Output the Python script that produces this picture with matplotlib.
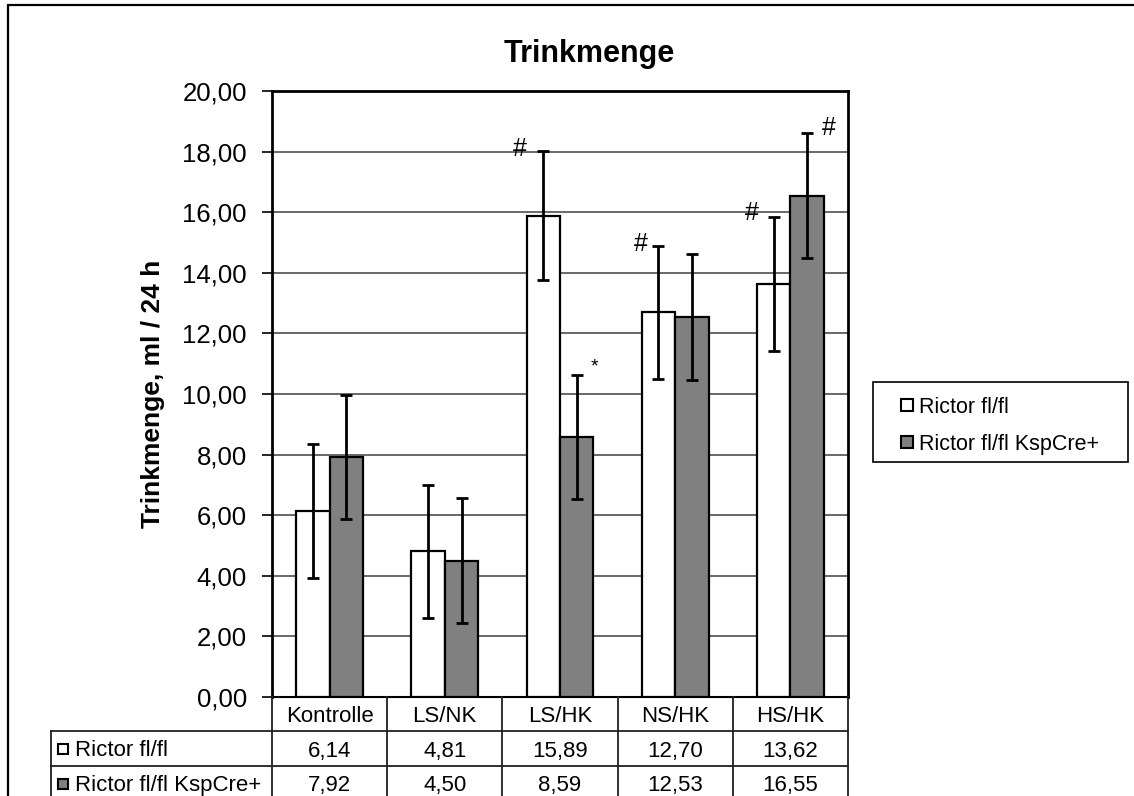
import matplotlib.pyplot as plt
import numpy as np
from matplotlib.lines import Line2D
from matplotlib.patches import Rectangle

plt.rcParams['font.family'] = ['Liberation Sans', 'DejaVu Sans']

# data
categories = ["Kontrolle", "LS/NK", "LS/HK", "NS/HK", "HS/HK"]
series_names = ["Rictor fl/fl", "Rictor fl/fl KspCre+"]
rictor = [6.14, 4.81, 15.89, 12.70, 13.62]
rictor_err = [2.21, 2.19, 2.13, 2.20, 2.21]
ksp = [7.92, 4.50, 8.59, 12.53, 16.55]
ksp_err = [2.04, 2.07, 2.05, 2.08, 2.07]
# significance marks: (category index, series index, symbol)
marks = [(2, 0, "#"), (3, 0, "#"), (4, 0, "#"), (4, 1, "#"), (2, 1, "*")]

W, H = 1134, 796
fig = plt.figure(figsize=(W / 100, H / 100), dpi=100)

def fx(px):
    return px / W

def fy(py):
    return 1 - py / H

# outer border of the chart area
fig.patches.append(Rectangle((fx(8), fy(820)), fx(1140) - fx(8), fy(5) - fy(820),
                             transform=fig.transFigure, fill=False,
                             edgecolor="black", linewidth=1.6))

ax_l, ax_r, ax_t, ax_b = 272, 848, 91, 697
ax = fig.add_axes([fx(ax_l), fy(ax_b), fx(ax_r - ax_l), (ax_b - ax_t) / H])

x = np.arange(len(categories))
bw = 0.29
colors = ["white", "#808080"]
vals = [rictor, ksp]
errs = [rictor_err, ksp_err]
offs = [-bw / 2, bw / 2]
for i in range(2):
    ax.bar(x + offs[i], vals[i], bw, color=colors[i], edgecolor="black",
           linewidth=1.6, zorder=3)
    ax.errorbar(x + offs[i], vals[i], yerr=errs[i], fmt="none", ecolor="black",
                elinewidth=2, capsize=4, capthick=2, zorder=4)

mark_off = {(2, 0): (-23, 2), (3, 0): (-18, 2), (4, 0): (-22, 4),
            (4, 1): (22, 5), (2, 1): (18, 8)}
for ci, si, sym in marks:
    top = vals[si][ci] + errs[si][ci]
    dx, dy = mark_off[(ci, si)]
    ax.annotate(sym, (x[ci] + offs[si], top), xytext=(dx, dy),
                textcoords="offset pixels", ha="center", va="center",
                fontsize=18 if sym == "#" else 14, zorder=5)

ax.set_xlim(-0.5, len(categories) - 0.5)
ax.set_ylim(0, 20)
ax.set_yticks(np.arange(0, 21, 2))
ax.set_yticklabels([f"{v:.2f}".replace(".", ",") for v in np.arange(0, 21, 2)],
                   fontsize=18.5)
ax.tick_params(axis="y", length=7, width=1.2, pad=11, direction="out")
ax.set_xticks([])
ax.yaxis.grid(True, color="#404040", linewidth=1.1, zorder=0)
ax.set_axisbelow(True)
for s in ["left", "top", "right"]:
    ax.spines[s].set_linewidth(2)
ax.spines["bottom"].set_linewidth(1.5)

ax.set_ylabel("Trinkmenge, ml / 24 h", fontsize=19, fontweight="bold")
ax.yaxis.label.set_va("center")
ax.yaxis.set_label_coords((153 - ax_l) / (ax_r - ax_l), 0.5)

fig.text(fx(589), fy(62), "Trinkmenge", fontsize=22, fontweight="bold",
         ha="center", va="baseline")

# data table under the axes
col_w = (ax_r - ax_l) / len(categories)
rows = [697, 731, 766, 801]
lc = "#202020"
for r in rows[1:]:
    fig.add_artist(Line2D([fx(51), fx(ax_r)], [fy(r), fy(r)], color=lc, lw=1.3))
for i in range(len(categories) + 1):
    xp = ax_l + i * col_w
    fig.add_artist(Line2D([fx(xp), fx(xp)], [fy(rows[0]), fy(rows[-1])],
                          color=lc, lw=1.3))
fig.add_artist(Line2D([fx(51), fx(51)], [fy(rows[1]), fy(rows[-1])], color=lc, lw=1.3))

for i, c in enumerate(categories):
    fig.text(fx(ax_l + (i + 0.5) * col_w), fy((rows[0] + rows[1]) / 2), c,
             fontsize=16, ha="center", va="center_baseline")
for si in range(2):
    ymid = fy((rows[si + 1] + rows[si + 2]) / 2)
    fig.add_artist(Line2D([fx(63)], [ymid], marker="s", markersize=7.5,
                          markerfacecolor=colors[si], markeredgecolor="black",
                          markeredgewidth=1.5, linestyle="none"))
    fig.text(fx(75), ymid, series_names[si], fontsize=16, ha="left",
             va="center_baseline")
    for i in range(len(categories)):
        fig.text(fx(ax_l + (i + 0.5) * col_w), ymid,
                 f"{vals[si][i]:.2f}".replace(".", ","),
                 fontsize=16, ha="center", va="center_baseline")

# legend box at the right
fig.patches.append(Rectangle((fx(873), fy(462)), fx(1128) - fx(873), fy(382) - fy(462),
                             transform=fig.transFigure, facecolor="white",
                             edgecolor="black", linewidth=1.2))
for si, ly in enumerate([405, 442]):
    fig.add_artist(Line2D([fx(907)], [fy(ly)], marker="s", markersize=8,
                          markerfacecolor=colors[si], markeredgecolor="black",
                          markeredgewidth=1.5, linestyle="none"))
    fig.text(fx(919), fy(ly), series_names[si], fontsize=15.5, ha="left",
             va="center_baseline")

fig.savefig("out.png", dpi=100)
